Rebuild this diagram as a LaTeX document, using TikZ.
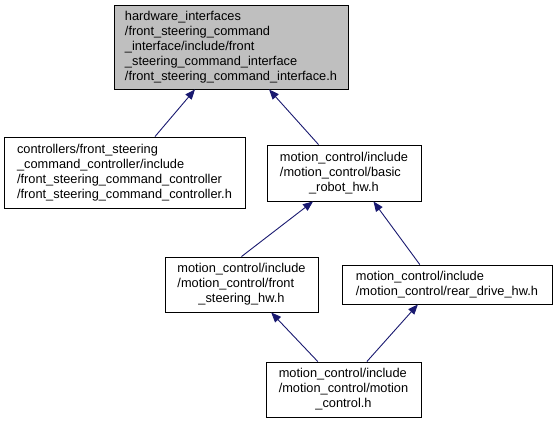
\documentclass[tikz,border=0pt]{standalone}
\usepackage{fontspec}
\setmainfont{Liberation Sans}
\usetikzlibrary{arrows.meta,calc}
\definecolor{edgeblue}{RGB}{25,25,112}
\definecolor{boxgray}{RGB}{191,191,191}
\newcommand{\ml}[2]{\begin{tabular}{@{}l@{}}#1\\\multicolumn{1}{@{}c@{}}{#2}\end{tabular}}
\begin{document}
\begin{tikzpicture}[x=1pt,y=-1pt,
  filebox/.style={draw=black,line width=0.9pt,fill=white,inner sep=0pt,
    font=\fontsize{12.8}{15}\selectfont},
  dep/.style={draw=edgeblue,line width=0.9pt,-{Triangle[length=10pt,width=8pt]}}]
\useasboundingbox (0,0) rectangle (555,423);
\node[filebox,fill=boxgray,minimum width=234pt,minimum height=84pt] (top) at (231,47)
  {\ml{hardware\_interfaces\\/front\_steering\_command\\\_interface/include/front\\\_steering\_command\_interface}{/front\_steering\_command\_interface.h}};
\node[filebox,minimum width=241pt,minimum height=71pt] (ctrl) at (124.5,172.5)
  {\ml{controllers/front\_steering\\\_command\_controller/include\\/front\_steering\_command\_controller}{/front\_steering\_command\_controller.h}};
\node[filebox,minimum width=154pt,minimum height=56pt] (basic) at (344,173)
  {\ml{motion\_control/include\\/motion\_control/basic}{\_robot\_hw.h}};
\node[filebox,minimum width=153pt,minimum height=55pt] (fsh) at (241.5,284.5)
  {\ml{motion\_control/include\\/motion\_control/front}{\_steering\_hw.h}};
\node[filebox,minimum width=210pt,minimum height=39pt] (rear) at (447,284.5)
  {\ml{motion\_control/include}{/motion\_control/rear\_drive\_hw.h}};
\node[filebox,minimum width=155pt,minimum height=55pt] (mc) at (343.5,389.5)
  {\ml{motion\_control/include\\/motion\_control/motion}{\_control.h}};
\draw[dep] (ctrl) -- (top);
\draw[dep] (basic) -- (top);
\draw[dep] (fsh.north) -- ($(basic.south west)!0.3!(basic.south east)$);
\draw[dep] ($(rear.north west)!0.371!(rear.north east)$) -- ($(basic.south west)!0.69!(basic.south east)$);
\draw[dep] ($(mc.north west)!0.335!(mc.north east)$) -- ($(fsh.south west)!0.693!(fsh.south east)$);
\draw[dep] ($(mc.north west)!0.65!(mc.north east)$) -- ($(rear.south west)!0.362!(rear.south east)$);
\end{tikzpicture}
\end{document}
